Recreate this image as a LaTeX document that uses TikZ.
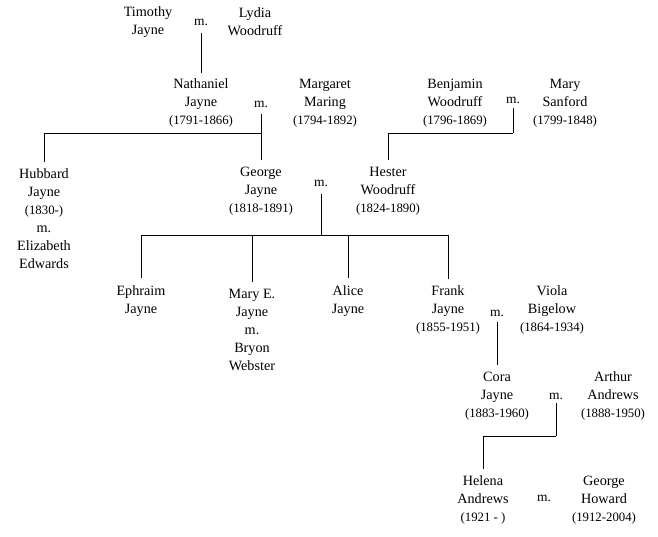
\documentclass[tikz,border=0pt]{standalone}
\usepackage{fontspec}
\setmainfont{Liberation Serif}
\newcommand\yrs[1]{{\fontsize{12.8}{18}\selectfont #1}}
\begin{document}
\begin{tikzpicture}[x=1pt,y=-1pt,
  person/.style={align=center, font=\fontsize{14.2}{18}\selectfont, inner sep=1pt},
  marr/.style={font=\fontsize{13.5}{16}\selectfont, inner sep=2pt},
  link/.style={draw=black, line width=0.8pt}]
\useasboundingbox (0,0) rectangle (658,537);
% generation 1
\node[person] (timothy) at (148,22) {Timothy\\Jayne};
\node[marr] (m1) at (201,22) {m.};
\node[person] (lydia) at (255,22) {Lydia\\Woodruff};
% generation 2
\node[person] (nathaniel) at (201,103) {Nathaniel\\Jayne\\\yrs{(1791-1866)}};
\node[marr] (m2) at (261,104) {m.};
\node[person] (margaret) at (325,103) {Margaret\\Maring\\\yrs{(1794-1892)}};
\node[person] (benjamin) at (455,103) {Benjamin\\Woodruff\\\yrs{(1796-1869)}};
\node[marr] (m3) at (513,100) {m.};
\node[person] (mary) at (565,103) {Mary\\Sanford\\\yrs{(1799-1848)}};
% generation 3
\node[person] (hubbard) at (44,219) {Hubbard\\Jayne\\\yrs{(1830-)}\\m.\\Elizabeth\\Edwards};
\node[person] (george) at (261,191) {George\\Jayne\\\yrs{(1818-1891)}};
\node[marr] (m4) at (321,183) {m.};
\node[person] (hester) at (388,191) {Hester\\Woodruff\\\yrs{(1824-1890)}};
% generation 4
\node[person] (ephraim) at (141,301) {Ephraim\\Jayne};
\node[person] (marye) at (252,330) {Mary E.\\Jayne\\m.\\Bryon\\Webster};
\node[person] (alice) at (348,301) {Alice\\Jayne};
\node[person] (frank) at (448,310) {Frank\\Jayne\\\yrs{(1855-1951)}};
\node[marr] (m5) at (497,313) {m.};
\node[person] (viola) at (552,310) {Viola\\Bigelow\\\yrs{(1864-1934)}};
% generation 5
\node[person] (cora) at (497,396) {Cora\\Jayne\\\yrs{(1883-1960)}};
\node[marr] (m6) at (556,396) {m.};
\node[person] (arthur) at (613,396) {Arthur\\Andrews\\\yrs{(1888-1950)}};
% generation 6
\node[person] (helena) at (483,500) {Helena\\Andrews\\\yrs{(1921 - )}};
\node[marr] (m7) at (544,498) {m.};
\node[person] (georgeh) at (604,500) {George\\Howard\\\yrs{(1912-2004)}};
% junctions
\coordinate (b2) at (261,133);
\coordinate (b3) at (513,133);
\coordinate (b4) at (321,235);
\coordinate (b6) at (556,436);
% connectors
\draw[link, shorten <=6pt, shorten >=5pt] (m1.south) -- (nathaniel.north);
\draw[link, shorten <=5pt] (m2.south) -- (b2);
\draw[link, shorten >=6pt] (b2) -| (hubbard.north);
\draw[link, shorten >=6pt] (b2) -- (george.north);
\draw[link, shorten <=3pt] (m3.south) -- (b3);
\draw[link, shorten >=6pt] (b3) -| (hester.north);
\draw[link, shorten <=6pt] (m4.south) -- (b4);
\draw[link] (ephraim.north |- b4) -- (frank.north |- b4);
\draw[link, shorten >=6pt] (ephraim.north |- b4) -- (ephraim.north);
\draw[link, shorten >=6pt] (marye.north |- b4) -- (marye.north);
\draw[link, shorten >=6pt] (alice.north |- b4) -- (alice.north);
\draw[link, shorten >=6pt] (frank.north |- b4) -- (frank.north);
\draw[link, shorten <=4pt, shorten >=6pt] (m5.south) -- (cora.north);
\draw[link, shorten <=2pt] (m6.south) -- (b6);
\draw[link, shorten >=6pt] (b6) -| (helena.north);
\end{tikzpicture}
\end{document}
